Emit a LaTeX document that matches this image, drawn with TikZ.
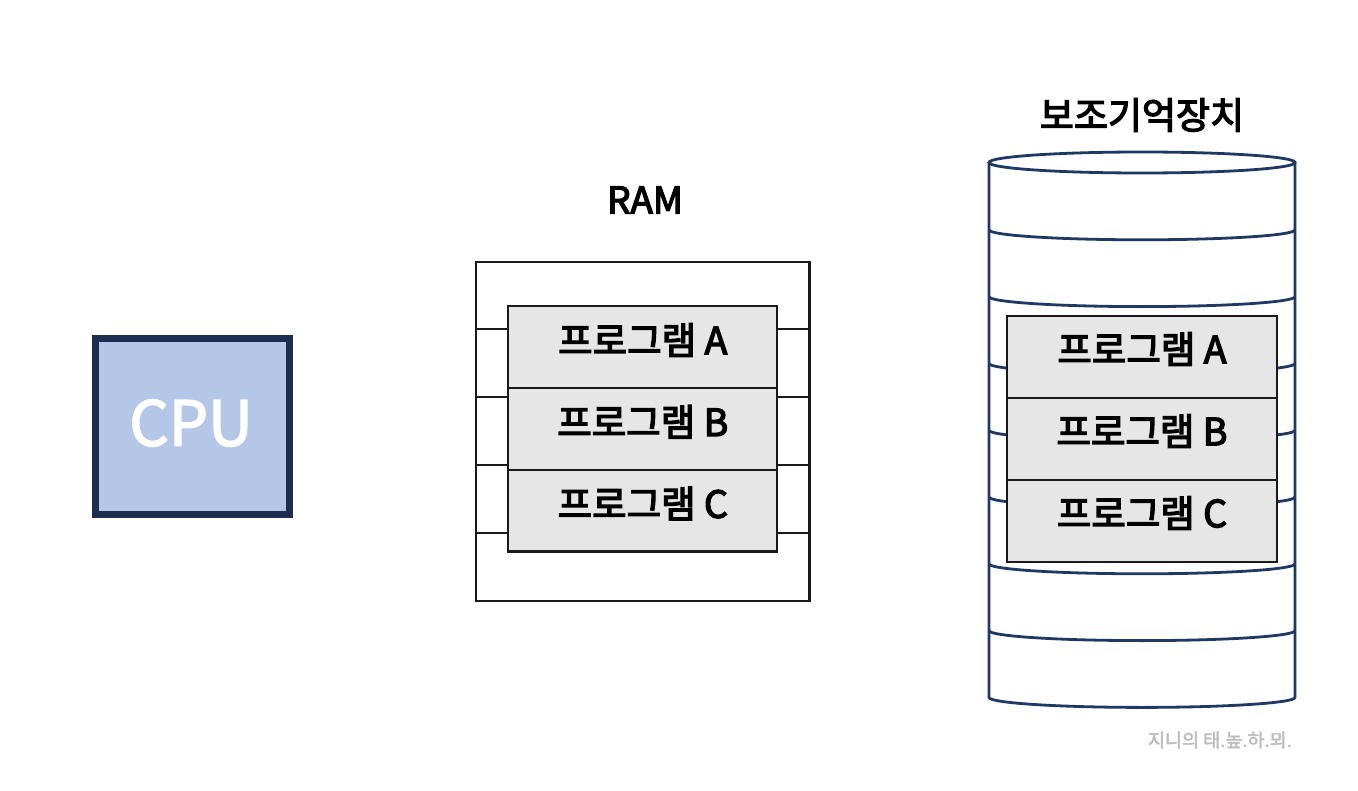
\documentclass[tikz,border=0pt]{standalone}
\usepackage{fontspec}
\newfontfamily\kr{Noto Sans CJK KR}[FakeBold=3.5]
\newfontfamily\krw{Noto Sans CJK KR}[FakeBold=2.5]
\definecolor{cpuborder}{HTML}{1C2D50}
\definecolor{cpufill}{HTML}{B4C7E7}
\definecolor{cyl}{HTML}{1F3864}
\definecolor{pfill}{HTML}{E6E6E6}
\definecolor{pline}{HTML}{1A1A1A}
\definecolor{wm}{HTML}{BDBDBD}
\tikzset{
  cpubox/.style={draw=cpuborder, fill=cpufill, line width=7pt, minimum width=194pt, minimum height=176pt, inner sep=0pt},
  rambox/.style={draw=pline, line width=2.2pt, minimum width=333.5pt, minimum height=339pt, inner sep=0pt},
  progbox/.style={draw=pline, fill=pfill, line width=2.2pt, minimum width=269pt, minimum height=81.8pt, inner sep=0pt},
  progtext/.style={font=\kr\fontsize{37.5}{40}\selectfont, inner sep=0pt, text=black},
  title/.style={font=\kr\fontsize{37}{40}\selectfont, inner sep=0pt, text=black},
  link/.style={draw=pline, line width=2.2pt},
  cylline/.style={draw=cyl, line width=2.8pt},
}
\begin{document}
\begin{tikzpicture}[x=1pt,y=-1pt]
\useasboundingbox (0,0) rectangle (1358,791);
\fill[white] (0,0) rectangle (1358,791);

% CPU
\node[cpubox] (cpu) at (192.5,426.5) {};
\node[font=\krw\fontsize{62}{64}\selectfont, text=white, inner sep=0pt] (cputext) at (191,423) {CPU};

% RAM
\node[title] (ramlabel) at (645,200) {RAM};
\node[rambox] (ram) at (642.75,431.5) {};
\node[progbox] (ramA) at (642.8,347) {};
\node[progbox] (ramB) at (642.8,428.8) {};
\node[progbox] (ramC) at (642.8,510.6) {};
\foreach \yy [count=\i] in {329.3,397,465.3,533.3} {
  \coordinate (ly\i) at (0,\yy);
  \draw[link] (ram.west |- ly\i) -- (ramA.west |- ly\i);
  \draw[link] (ramA.east |- ly\i) -- (ram.east |- ly\i);
}
\node[progtext] (tA) at ([yshift=7pt]ramA.center) {프로그램 A};
\node[progtext] (tB) at ([yshift=7pt]ramB.center) {프로그램 B};
\node[progtext] (tC) at ([yshift=7pt]ramC.center) {프로그램 C};

% Storage cylinder
\node[title] (stlabel) at (1142,115) {보조기억장치};
\draw[cylline] (1142,162.5) ellipse [x radius=153pt, y radius=10.5pt];
\draw[cylline] (989,162.5) -- (989,697.4) arc[start angle=180, end angle=360, x radius=153pt, y radius=10pt] -- (1295,162.5);
\foreach \k in {1,...,7} {
  \draw[cylline] (989,{163+66.8*\k}) arc[start angle=180, end angle=360, x radius=153pt, y radius=10pt];
}
\node[progbox, minimum width=270pt, minimum height=82pt] (sA) at (1142,357) {};
\node[progbox, minimum width=270pt, minimum height=82pt] (sB) at (1142,439) {};
\node[progbox, minimum width=270pt, minimum height=82pt] (sC) at (1142,521) {};
\node[progtext] (sAt) at ([yshift=8pt]sA.center) {프로그램 A};
\node[progtext] (sBt) at ([yshift=8pt]sB.center) {프로그램 B};
\node[progtext] (sCt) at ([yshift=8pt]sC.center) {프로그램 C};

% watermark
\node[font=\krw\fontsize{18.5}{20}\selectfont, text=wm, anchor=east, inner sep=0pt] (wmark) at (1292,740) {지니의 태.높.하.뫼.};
\end{tikzpicture}
\end{document}
